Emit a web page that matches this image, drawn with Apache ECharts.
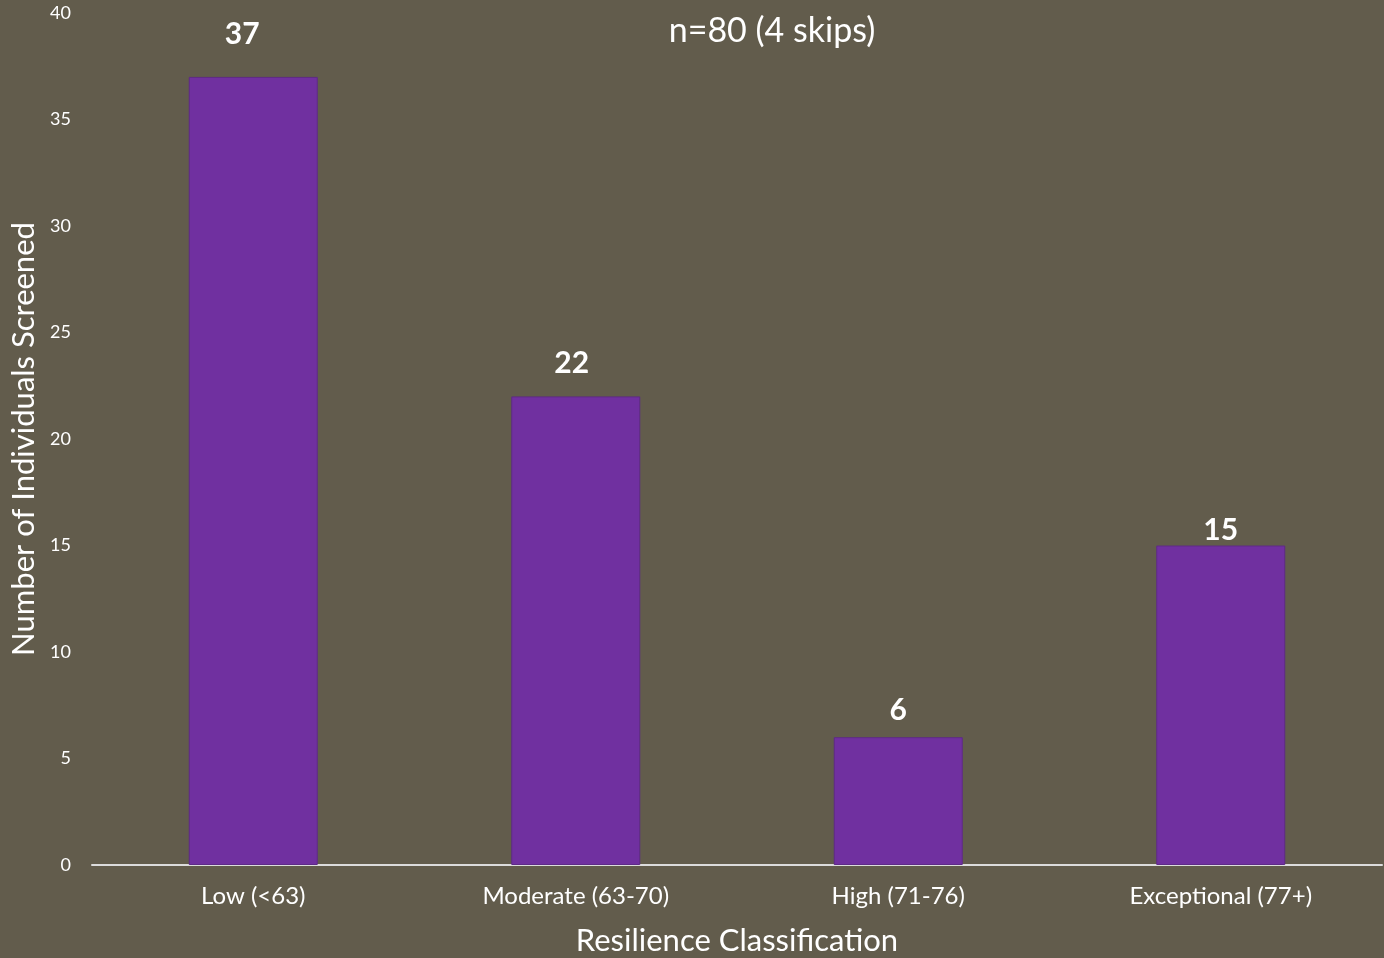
<!DOCTYPE html>
<html>
<head>
<meta charset="utf-8">
<title>Resilience Classification</title>
<script src="https://cdn.jsdelivr.net/npm/echarts@6/dist/echarts.min.js"></script>
<style>
  html, body { margin: 0; padding: 0; background: #625C4C; }
  #chart { width: 1384px; height: 958px; }
</style>
</head>
<body>
<div id="chart"></div>
<script>
// Screening results by resilience band
const categories = ['Low (<63)', 'Moderate (63-70)', 'High (71-76)', 'Exceptional (77+)'];
const counts = [37, 22, 6, 15];
const yTicks = [0, 5, 10, 15, 20, 25, 30, 35, 40];

// Gap between each bar top and its value label, and sideways nudge (px)
const labelGap = [28, 18, 12, 0];
const labelShift = [-11, -4, 0, 0];

const FONT = 'Lato, "Open Sans", sans-serif';
const TEXT = '#FFFFFF';

const chart = echarts.init(document.getElementById('chart'), null, { renderer: 'canvas' });

chart.setOption({
  backgroundColor: '#625C4C',
  animation: false,
  textStyle: { fontFamily: FONT },
  title: {
    text: 'n=80 (4 skips)',
    left: 767,
    top: 9,
    textAlign: 'center',
    textStyle: { color: TEXT, fontSize: 34, fontWeight: 'normal', fontFamily: FONT }
  },
  grid: { left: 92, right: 2, top: 13, bottom: 93, containLabel: false, outerBoundsMode: 'none' },
  xAxis: {
    type: 'category',
    data: categories,
    name: 'Resilience Classification',
    nameLocation: 'middle',
    nameGap: 60,
    nameTextStyle: { color: TEXT, fontSize: 31, fontFamily: FONT },
    axisLine: { show: true, lineStyle: { color: '#DCDCDC', width: 2 } },
    axisTick: { show: false },
    axisLabel: { color: TEXT, fontSize: 24, margin: 19, fontFamily: FONT },
    splitLine: { show: false }
  },
  yAxis: {
    type: 'value',
    min: yTicks[0],
    max: yTicks[yTicks.length - 1],
    interval: yTicks[1] - yTicks[0],
    name: 'Number of Individuals Screened',
    nameLocation: 'middle',
    nameGap: 51,
    nameTextStyle: { color: TEXT, fontSize: 31, fontFamily: FONT },
    axisLine: { show: false },
    axisTick: { show: false },
    axisLabel: { color: TEXT, fontSize: 18, margin: 21, fontFamily: FONT },
    splitLine: { show: false }
  },
  series: [{
    type: 'bar',
    barWidth: '40%',
    data: counts.map((v, i) => ({
      value: v,
      label: { distance: labelGap[i], offset: [labelShift[i], 0] }
    })),
    itemStyle: { color: '#7030A0', borderColor: '#5E2A86', borderWidth: 1 },
    label: {
      show: true,
      position: 'top',
      color: TEXT,
      fontSize: 30,
      fontWeight: 'bold',
      fontFamily: FONT
    }
  }]
});
</script>
</body>
</html>
